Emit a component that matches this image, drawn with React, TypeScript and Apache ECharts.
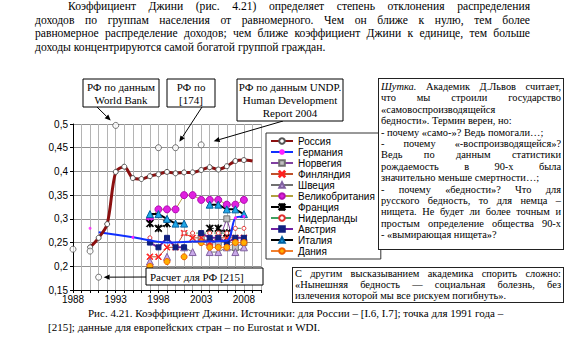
import React, { useEffect, useRef } from 'react';
import * as echarts from 'echarts';

// ---------- axis ----------
const xMin = 1988;
const xMax = 2010;
const xLabelYears = [1988, 1993, 1998, 2003, 2008];
const yMin = 0.15;
const yMax = 0.5;
const yStep = 0.05;

// ---------- Russia (main series) ----------
const russiaYears = [1990, 1991, 1992, 1993, 1994, 1995, 1996, 1997, 1998, 1999, 2000, 2001, 2002, 2003, 2004, 2005, 2006, 2007, 2008, 2009];
const russiaValues = [0.24, 0.26, 0.289, 0.399, 0.41, 0.386, 0.384, 0.39, 0.394, 0.399, 0.396, 0.398, 0.398, 0.403, 0.409, 0.404, 0.411, 0.422, 0.424, 0.422];
const russiaNoMarkerYears = [2009];

// ---------- Russia, other sources (single points) ----------
const rfOtherYears = [1988, 1990, 1991, 1993, 1998, 2000, 2003];
const rfOtherValues = [0.236, 0.232, 0.177, 0.497, 0.45, 0.45, 0.456];

// ---------- Germany ----------
const germanyYears = [1991, 1995, 1999, 2002, 2006, 2007, 2008];
const germanyValues = [0.272, 0.261, 0.25, 0.252, 0.254, 0.302, 0.305];
const germanyMarkerYears = [1995, 2007, 2008];
const germanyExtraYears = [1990];
const germanyExtraValues = [0.28];

// ---------- European countries, 1997..2008 ----------
const euroYears = [1997, 1998, 1999, 2000, 2001, 2002, 2003, 2004, 2005, 2006, 2007, 2008];
const norwayValues = [null, null, null, null, null, null, 0.26, 0.25, 0.25, 0.30, 0.24, 0.25];
const finlandValues = [0.22, 0.22, 0.24, 0.24, 0.27, 0.26, 0.26, 0.25, 0.26, 0.26, 0.26, 0.26];
const swedenValues = [0.21, null, 0.22, null, 0.24, 0.23, null, 0.23, 0.23, 0.24, 0.23, 0.24];
const ukValues = [0.30, 0.32, 0.32, 0.32, 0.35, 0.35, 0.34, 0.34, 0.34, 0.33, 0.33, 0.34];
const franceValues = [0.29, 0.28, 0.29, null, null, null, null, 0.28, 0.28, 0.27, null, null];
const netherlandsValues = [0.26, null, null, null, 0.27, 0.27, 0.27, 0.27, 0.27, 0.27, 0.28, 0.28];
const austriaValues = [0.25, 0.24, 0.26, 0.24, 0.24, null, 0.27, 0.26, 0.26, 0.25, 0.26, 0.26];
const italyValues = [0.31, 0.31, 0.30, 0.29, 0.29, null, null, 0.33, 0.33, 0.32, 0.32, 0.31];
const denmarkValues = [0.20, null, 0.21, null, 0.22, null, 0.25, 0.24, 0.24, 0.24, 0.25, 0.25];

const legendNames = ['Россия', 'Германия', 'Норвегия', 'Финляндия', 'Швеция', 'Великобритания', 'Франция', 'Нидерланды', 'Австрия', 'Италия', 'Дания'];

// ---------- texts ----------
const paragraphLines = [
  'Коэффициент Джини (рис. 4.21) определяет степень отклонения распределения',
  'доходов по группам населения от равномерного. Чем он ближе к нулю, тем более',
  'равномерное распределение доходов; чем ближе коэффициент Джини к единице, тем больше',
  'доходы концентрируются самой богатой группой граждан.',
];
const jokeLines = [
  'Шутка. Академик Д.Львов считает,',
  'что мы строили государство',
  '«самовоспроизводящейся',
  'бедности». Термин верен, но:',
  '- почему «само-»? Ведь помогали…;',
  '- почему «-воспроизводящейся»?',
  'Ведь по данным статистики',
  'рождаемость в 90-х была',
  'значительно меньше смертности…;',
  '- почему «бедности»? Что для',
  'русского бедность, то для немца –',
  'нищета. Не будет ли более точным и',
  'простым определение общества 90-х',
  '- «вымирающая нищета»?',
];
const jokeJustified = [true, true, false, false, false, true, true, true, false, true, true, true, true, false];
const quoteLines = [
  'С другим высказыванием академика спорить сложно:',
  '«Нынешняя бедность — социальная болезнь, без',
  'излечения которой мы все рискуем погибнуть».',
];
const captionLines = [
  'Рис.  4.21. Коэффициент Джини. Источники: для России – [I.6, I.7]; точка для 1991 года –',
  '[215]; данные для европейских стран  – по Eurostat и WDI.',
];
const annotations = [
  { lines: ['РФ по данным', 'World Bank'] },
  { lines: ['РФ по', '[174]'] },
  { lines: ['РФ по данным UNDP.', 'Human Development', 'Report 2004'] },
  { lines: ['Расчет для РФ [215]'] },
];

const SERIF = '"Liberation Serif", "Times New Roman", serif';
const SERIF_EC = 'Liberation Serif';
const SANS = 'Liberation Sans';

const zip = (xs: number[], ys: (number | null)[]) => xs.map((x, i) => [x, ys[i] === null ? '-' : ys[i]]);

const xShape = 'path://M0,1L1,0L5,4L9,0L10,1L6,5L10,9L9,10L5,6L1,10L0,9L4,5Z';
const zheShape = 'path://M0,1L1,0L4.4,3.4L4.4,0L5.6,0L5.6,3.4L9,0L10,1L6,5L10,9L9,10L5.6,6.6L5.6,10L4.4,10L4.4,6.6L1,10L0,9L4,5Z';

function buildOption(): any {
  const euroLine = (name: string, values: (number | null)[], color: string, width: number, type: string, symbol: string, size: number, fill: string, border: string) => ({
    name,
    type: 'line',
    data: zip(euroYears, values),
    connectNulls: false,
    lineStyle: { color, width, type },
    symbol,
    symbolSize: size,
    itemStyle: { color: fill, borderColor: border, borderWidth: 1 },
    z: 3,
  });
  return {
    animation: false,
    grid: { left: 73, top: 124, width: 188, height: 166, containLabel: false },
    xAxis: {
      type: 'value',
      min: xMin,
      max: xMax,
      interval: 1,
      axisLine: { lineStyle: { color: '#000', width: 1 } },
      axisTick: { show: true, length: 3, lineStyle: { color: '#000' } },
      axisLabel: {
        formatter: (v: number) => (xLabelYears.includes(Math.round(v)) ? String(Math.round(v)) : ''),
        color: '#000',
        fontFamily: SANS,
        fontSize: 10,
        margin: 4,
        hideOverlap: false,
      },
      splitLine: { show: true, lineStyle: { color: '#b4b4b4', width: 1 } },
    },
    yAxis: {
      type: 'value',
      min: yMin,
      max: yMax,
      interval: yStep,
      axisLine: { show: true, lineStyle: { color: '#000', width: 1 } },
      axisTick: { show: true, length: 3, lineStyle: { color: '#000' } },
      axisLabel: {
        formatter: (v: number) => String(+v.toFixed(2)).replace('.', ','),
        color: '#000',
        fontFamily: SANS,
        fontSize: 10,
        margin: 5,
      },
      splitLine: { show: true, lineStyle: { color: '#909090', width: 1 } },
    },
    legend: {
      orient: 'vertical',
      left: 266,
      top: 133,
      data: legendNames,
      itemWidth: 22,
      itemHeight: 7,
      itemGap: 1,
      padding: [3, 6, 3, 4],
      borderColor: '#333',
      borderWidth: 1,
      backgroundColor: '#fff',
      textStyle: { fontFamily: SANS, fontSize: 10, color: '#000', lineHeight: 10 },
      selectedMode: false,
    },
    series: [
      euroLine('Норвегия', norwayValues, '#8040a0', 1, 'solid', 'rect', 6, '#c0c0c0', '#707070'),
      euroLine('Финляндия', finlandValues, '#c0502a', 1, 'solid', xShape, 6, '#ff2020', '#ff2020'),
      euroLine('Швеция', swedenValues, '#707070', 1, 'solid', 'triangle', 7, '#c8a8e8', '#8060a0'),
      euroLine('Великобритания', ukValues, '#b0a040', 1, 'solid', 'circle', 7, '#e020e0', '#b010b0'),
      euroLine('Франция', franceValues, '#000', 1, 'dashed', zheShape, 7, '#000', '#000'),
      euroLine('Нидерланды', netherlandsValues, '#40a060', 1, 'dashed', 'circle', 4, '#fff', '#e03030'),
      euroLine('Австрия', austriaValues, '#7020a0', 2, 'solid', 'rect', 5, '#102080', '#102080'),
      euroLine('Италия', italyValues, '#000', 2, 'solid', 'triangle', 7, '#20a8e8', '#0060a0'),
      euroLine('Дания', denmarkValues, '#f08030', 1, 'solid', 'circle', 6, '#ffb000', '#f06000'),
      {
        name: 'Германия',
        type: 'line',
        smooth: 0.3,
        data: germanyYears.map((y, i) => ({
          value: [y, germanyValues[i]],
          symbol: germanyMarkerYears.includes(y) ? 'circle' : 'none',
        })),
        lineStyle: { color: '#1030ff', width: 2 },
        symbol: 'circle',
        symbolSize: 3,
        itemStyle: { color: '#ff20ff' },
        z: 4,
      },
      {
        name: 'Германия',
        type: 'scatter',
        data: zip(germanyExtraYears, germanyExtraValues),
        symbol: 'circle',
        symbolSize: 3,
        itemStyle: { color: '#ff20ff' },
        z: 4,
      },
      {
        name: 'Россия',
        type: 'line',
        smooth: 0.3,
        data: russiaYears.map((y, i) => ({
          value: [y, russiaValues[i]],
          symbol: russiaNoMarkerYears.includes(y) ? 'none' : 'circle',
        })),
        lineStyle: { color: '#8b1010', width: 3 },
        symbol: 'circle',
        symbolSize: 5,
        itemStyle: { color: '#fff', borderColor: '#555', borderWidth: 1 },
        z: 6,
      },
      {
        name: 'РФ (другие источники)',
        type: 'scatter',
        data: zip(rfOtherYears, rfOtherValues),
        symbol: 'circle',
        symbolSize: 6,
        itemStyle: { color: '#fff', borderColor: '#555', borderWidth: 1 },
        z: 6,
      },
    ],
  };
}

// annotation boxes (layout) and the data point each arrow points to
const boxLayout = [
  { x: 83, y: 79, w: 76, h: 28, align: 'center', arrowFrom: [97, 107], target: [1993, 0.497], gap: 7 },
  { x: 167, y: 79, w: 48, h: 28, align: 'center', arrowFrom: [202, 107], target: [2000, 0.45], gap: 7 },
  { x: 237, y: 79, w: 106, h: 42, align: 'center', arrowFrom: [283, 121], target: [2003, 0.456], gap: 13 },
  { x: 146, y: 268, w: 117, h: 17, align: 'left', arrowFrom: [146, 277], target: [1991, 0.177], gap: 5 },
];

function buildGraphics(chart: any) {
  const els: any[] = [];
  boxLayout.forEach((b, bi) => {
    const ann = annotations[bi];
    els.push({
      type: 'rect',
      shape: { x: b.x, y: b.y, width: b.w, height: b.h },
      style: { fill: '#fff', stroke: '#000', lineWidth: 1 },
      z: 20,
    });
    ann.lines.forEach((t, li) => {
      els.push({
        type: 'text',
        x: b.align === 'center' ? b.x + b.w / 2 : b.x + 4,
        y: b.y + 7.5 + li * 13 + (b.h === 17 ? 1 : 0),
        style: {
          text: t,
          fontFamily: SERIF_EC,
          fontSize: 11,
          fill: '#000',
          align: b.align === 'center' ? 'center' : 'left',
          verticalAlign: 'middle',
        },
        z: 21,
      });
    });
    const p = chart.convertToPixel({ gridIndex: 0 }, b.target);
    const sx = b.arrowFrom[0], sy = b.arrowFrom[1];
    const dx = p[0] - sx, dy = p[1] - sy;
    const len = Math.sqrt(dx * dx + dy * dy);
    const ux = dx / len, uy = dy / len;
    const tx = p[0] - ux * b.gap, ty = p[1] - uy * b.gap;
    const bx = tx - ux * 6, by = ty - uy * 6;
    const nx = -uy, ny = ux;
    els.push({
      type: 'line',
      shape: { x1: sx, y1: sy, x2: bx, y2: by },
      style: { stroke: '#000', lineWidth: 1 },
      z: 19,
    });
    els.push({
      type: 'polygon',
      shape: { points: [[tx, ty], [bx + nx * 2.6, by + ny * 2.6], [bx - nx * 2.6, by - ny * 2.6]] },
      style: { fill: '#000' },
      z: 19,
    });
  });
  return els;
}

function JustLine({ text, left, top, width, justify, fontSize, lineHeight, italicFirst }: any) {
  let content: any = text;
  if (italicFirst) {
    const idx = text.indexOf(' ');
    content = (
      <>
        <i>{text.slice(0, idx)}</i>
        {text.slice(idx)}
      </>
    );
  }
  return (
    <div
      style={{
        position: 'absolute',
        left,
        top,
        width,
        height: lineHeight,
        lineHeight: `${lineHeight}px`,
        fontFamily: SERIF,
        fontSize,
        color: '#000',
        whiteSpace: 'nowrap',
        textAlign: justify ? 'justify' : 'left',
        textAlignLast: justify ? 'justify' : 'left',
      } as any}
    >
      {content}
    </div>
  );
}

export default function App() {
  const ref = useRef<HTMLDivElement>(null);
  useEffect(() => {
    if (!ref.current) return;
    const chart = echarts.init(ref.current, undefined, { renderer: 'svg' });
    chart.setOption(buildOption());
    chart.setOption({ graphic: buildGraphics(chart) });
    return () => chart.dispose();
  }, []);

  return (
    <div style={{ position: 'absolute', left: 0, top: 0, width: 575, height: 354, background: '#fff', overflow: 'hidden' }}>
      {paragraphLines.map((t, i) => (
        <JustLine
          key={'p' + i}
          text={t}
          left={i === 0 ? 68 : 35}
          top={0 + i * 13.6}
          width={i === 0 ? 462 : 495}
          justify={i < 3}
          fontSize={11.6}
          lineHeight={13.6}
        />
      ))}
      <div ref={ref} style={{ position: 'absolute', left: 0, top: 0, width: 575, height: 354 }} />
      <div style={{ position: 'absolute', left: 378, top: 78, width: 184, height: 170, border: '1px solid #222', background: '#fff' }}>
        {jokeLines.map((t, i) => (
          <JustLine
            key={'j' + i}
            text={t}
            left={2}
            top={2 + i * 11.4}
            width={180}
            justify={jokeJustified[i]}
            fontSize={10.4}
            lineHeight={11.4}
            italicFirst={i === 0}
          />
        ))}
      </div>
      <div style={{ position: 'absolute', left: 292, top: 267, width: 270, height: 34, border: '1px solid #222', background: '#fff' }}>
        {quoteLines.map((t, i) => (
          <JustLine
            key={'q' + i}
            text={t}
            left={2}
            top={0 + i * 11.2}
            width={266}
            justify={i < 2}
            fontSize={10.4}
            lineHeight={11.2}
          />
        ))}
      </div>
      {captionLines.map((t, i) => (
        <JustLine
          key={'c' + i}
          text={t}
          left={i === 0 ? 88 : 48}
          top={307 + i * 13.6}
          width={i === 0 ? 400 : 400}
          justify={i === 0}
          fontSize={11}
          lineHeight={13.6}
        />
      ))}
    </div>
  );
}
